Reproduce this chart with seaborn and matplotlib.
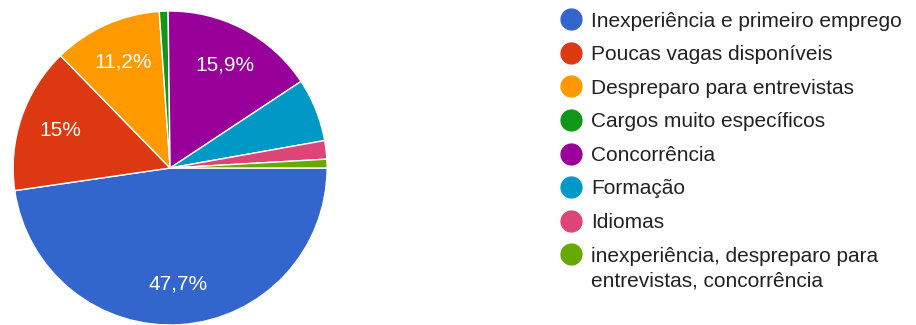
import matplotlib
matplotlib.use("Agg")
import matplotlib.pyplot as plt
import seaborn as sns
from matplotlib.lines import Line2D
from matplotlib.legend_handler import HandlerLine2D

sns.set_theme(style="white")
plt.rcParams['font.family'] = ['Liberation Sans', 'DejaVu Sans']

categories = [
    "Inexperiência e primeiro emprego",
    "Poucas vagas disponíveis",
    "Despreparo para entrevistas",
    "Cargos muito específicos",
    "Concorrência",
    "Formação",
    "Idiomas",
    "inexperiência, despreparo para\nentrevistas, concorrência",
]
values = [47.7, 15.0, 11.2, 0.9, 15.9, 6.5, 1.9, 0.9]
colors = ["#3366cc", "#dc3912", "#ff9900", "#109618",
          "#990099", "#0099c6", "#dd4477", "#66aa00"]

FS = 15
LS = 1.4

fig = plt.figure(figsize=(9.16, 3.25), dpi=100)
ax = fig.add_axes([0.0142, 0.0, 0.343, 0.966])


def fmt(p):
    if p < 10:
        return ""
    s = f"{p:.1f}".replace(".", ",")
    if s.endswith(",0"):
        s = s[:-2]
    return s + "%"


wedges, texts, autotexts = ax.pie(
    values, colors=colors, startangle=0, counterclock=False,
    autopct=fmt, pctdistance=0.74, radius=1.0,
    wedgeprops=dict(edgecolor="white", linewidth=1),
    textprops=dict(color="white", fontsize=FS),
)
ax.set_xlim(-1.0, 1.0)
ax.set_ylim(-1.0, 1.0)
ax.set_aspect("equal")
ax.axis("off")


class TopHandler(HandlerLine2D):
    def __init__(self, nlines, **kw):
        super().__init__(**kw)
        self.nlines = nlines

    def create_artists(self, legend, orig_handle, xdescent, ydescent,
                       width, height, fontsize, trans):
        arts = super().create_artists(legend, orig_handle, xdescent, ydescent,
                                      width, height, fontsize, trans)
        shift = (self.nlines - 1) * 0.5 * LS * fontsize
        for a in arts:
            yd = a.get_ydata()
            a.set_ydata([y + shift for y in yd])
        return arts


handles = [Line2D([0], [0], marker="o", linestyle="", markersize=15,
                  markerfacecolor=c, markeredgecolor=c) for c in colors]
handler_map = {h: TopHandler(lab.count("\n") + 1)
               for h, lab in zip(handles, categories)}
leg = fig.legend(handles, categories, loc="upper left",
                 bbox_to_anchor=(0.603, 0.99), frameon=False,
                 fontsize=FS, handletextpad=0.45, labelspacing=0.7,
                 handlelength=1.0, borderaxespad=0, handler_map=handler_map)
for t in leg.get_texts():
    t.set_color("#222222")
    t.set_linespacing(LS)

fig.savefig("out.png", dpi=100)
